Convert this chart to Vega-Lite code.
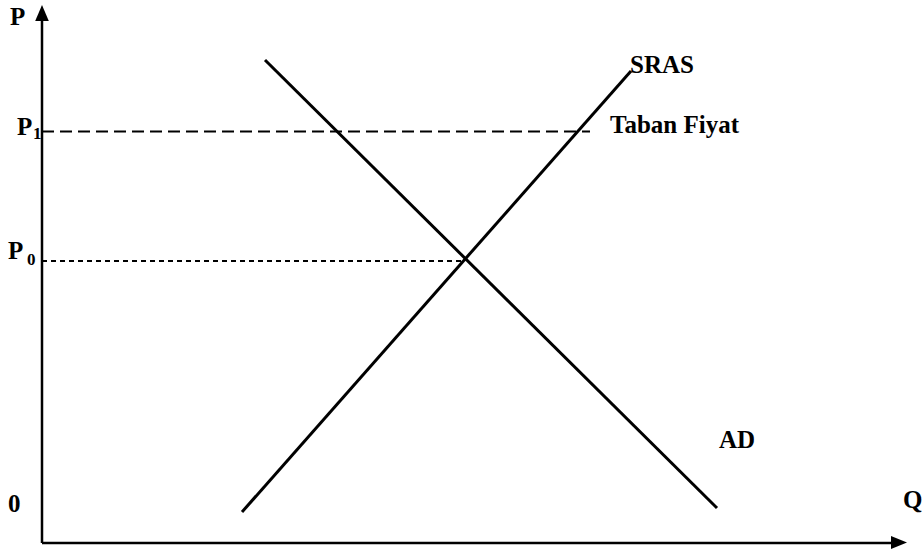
{
  "$schema": "https://vega.github.io/schema/vega-lite/v6.json",
  "width": 882,
  "height": 543,
  "autosize": {"type": "none"},
  "padding": {"left": 42, "top": 0, "right": 0, "bottom": 8},
  "background": "white",
  "config": {"view": {"stroke": null}},
  "datasets": {
    "curves": [
      {"curve": "AD", "q": 223, "p": 483},
      {"curve": "AD", "q": 675, "p": 35},
      {"curve": "SRAS", "q": 200, "p": 31},
      {"curve": "SRAS", "q": 589, "p": 472}
    ],
    "axes": [
      {"name": "P axis", "q": 0, "q2": 0, "p": 0, "p2": 526},
      {"name": "Q axis", "q": 0, "q2": 852, "p": 0, "p2": 0}
    ],
    "p1": [{"level": "P1", "q": 0, "q2": 548, "p": 411.5}],
    "p0": [{"level": "P0", "q": 0, "q2": 421, "p": 282}],
    "arrowUp": [{"q": 0, "p": 530}],
    "arrowRight": [{"q": 857, "p": 0.5}],
    "labels": [
      {"t": "P", "q": -32, "p": 518},
      {"t": "P", "q": -25, "p": 408},
      {"t": "P", "q": -34, "p": 284},
      {"t": "0", "q": -34, "p": 31},
      {"t": "Q", "q": 861, "p": 35},
      {"t": "SRAS", "q": 588, "p": 470},
      {"t": "Taban Fiyat", "q": 568, "p": 410},
      {"t": "AD", "q": 677, "p": 95}
    ],
    "subs": [
      {"t": "1", "q": -9, "p": 404},
      {"t": "0", "q": -15, "p": 278}
    ]
  },
  "layer": [
    {
      "data": {"name": "axes"},
      "mark": {"type": "rule", "color": "black", "strokeWidth": 2.5, "clip": false},
      "encoding": {
        "x": {"field": "q", "type": "quantitative", "scale": {"domain": [0, 882], "nice": false, "zero": false}, "axis": null},
        "x2": {"field": "q2"},
        "y": {"field": "p", "type": "quantitative", "scale": {"domain": [0, 543], "nice": false, "zero": false}, "axis": null},
        "y2": {"field": "p2"}
      }
    },
    {
      "data": {"name": "arrowUp"},
      "mark": {"type": "point", "shape": "M0,-1L0.85,1L-0.85,1Z", "size": 256, "filled": true, "color": "black", "opacity": 1, "clip": false},
      "encoding": {
        "x": {"field": "q", "type": "quantitative"},
        "y": {"field": "p", "type": "quantitative"}
      }
    },
    {
      "data": {"name": "arrowRight"},
      "mark": {"type": "point", "shape": "M1,0L-1,0.8L-1,-0.8Z", "size": 256, "filled": true, "color": "black", "opacity": 1, "clip": false},
      "encoding": {
        "x": {"field": "q", "type": "quantitative"},
        "y": {"field": "p", "type": "quantitative"}
      }
    },
    {
      "data": {"name": "p1"},
      "mark": {"type": "rule", "color": "black", "strokeWidth": 2, "strokeDash": [12, 6]},
      "encoding": {
        "x": {"field": "q", "type": "quantitative"},
        "x2": {"field": "q2"},
        "y": {"field": "p", "type": "quantitative"}
      }
    },
    {
      "data": {"name": "p0"},
      "mark": {"type": "rule", "color": "black", "strokeWidth": 1.8, "strokeDash": [5, 4]},
      "encoding": {
        "x": {"field": "q", "type": "quantitative"},
        "x2": {"field": "q2"},
        "y": {"field": "p", "type": "quantitative"}
      }
    },
    {
      "data": {"name": "curves"},
      "mark": {"type": "line", "color": "black", "strokeWidth": 3},
      "encoding": {
        "x": {"field": "q", "type": "quantitative"},
        "y": {"field": "p", "type": "quantitative"},
        "detail": {"field": "curve"}
      }
    },
    {
      "data": {"name": "labels"},
      "mark": {"type": "text", "font": "Liberation Serif", "fontWeight": "bold", "fontSize": 25, "align": "left", "baseline": "alphabetic", "color": "black", "clip": false},
      "encoding": {
        "x": {"field": "q", "type": "quantitative"},
        "y": {"field": "p", "type": "quantitative"},
        "text": {"field": "t"}
      }
    },
    {
      "data": {"name": "subs"},
      "mark": {"type": "text", "font": "Liberation Serif", "fontWeight": "bold", "fontSize": 17, "align": "left", "baseline": "alphabetic", "color": "black", "clip": false},
      "encoding": {
        "x": {"field": "q", "type": "quantitative"},
        "y": {"field": "p", "type": "quantitative"},
        "text": {"field": "t"}
      }
    }
  ]
}
